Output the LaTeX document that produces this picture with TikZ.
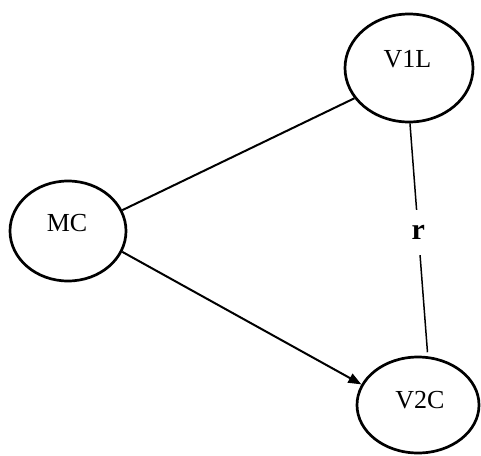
\documentclass[tikz,border=0pt]{standalone}
\usepackage{fontspec}
\setmainfont{Liberation Serif}
\usetikzlibrary{shapes.geometric,arrows.meta}
\begin{document}
\begin{tikzpicture}[x=1pt,y=-1pt,
  ell/.style={draw,ellipse,line width=2.7pt,inner sep=0pt},
  lbl/.style={font=\fontsize{26}{30}\selectfont,inner sep=0pt},
  conn/.style={line width=2pt},
  thin/.style={line width=1.5pt}]
\useasboundingbox (0,0) rectangle (481,455);
\node[ell,minimum width=116pt,minimum height=100pt] (mc) at (68,231) {};
\node[ell,minimum width=128pt,minimum height=108pt] (v1l) at (409,68) {};
\node[ell,minimum width=122pt,minimum height=96pt] (v2c) at (418,405) {};
\node[lbl] (mct) at (67,223) {MC};
\node[lbl] (v1lt) at (407.5,59) {V1L};
\node[lbl] (v2ct) at (420,400) {V2C};
\draw[conn] (mc.21.3) -- (v1l.-151.8);
\draw[conn,-{Triangle[length=13pt,width=10pt]}] (mc.-21.3) -- (v2c.160.3);
\draw[thin] (v1l.-89) -- node[pos=0.475,fill=white,inner sep=0pt,minimum height=45pt,minimum width=22pt,font=\fontsize{30}{34}\selectfont\bfseries] (r) {r} ([yshift=4pt]v2c.79);
\end{tikzpicture}
\end{document}
